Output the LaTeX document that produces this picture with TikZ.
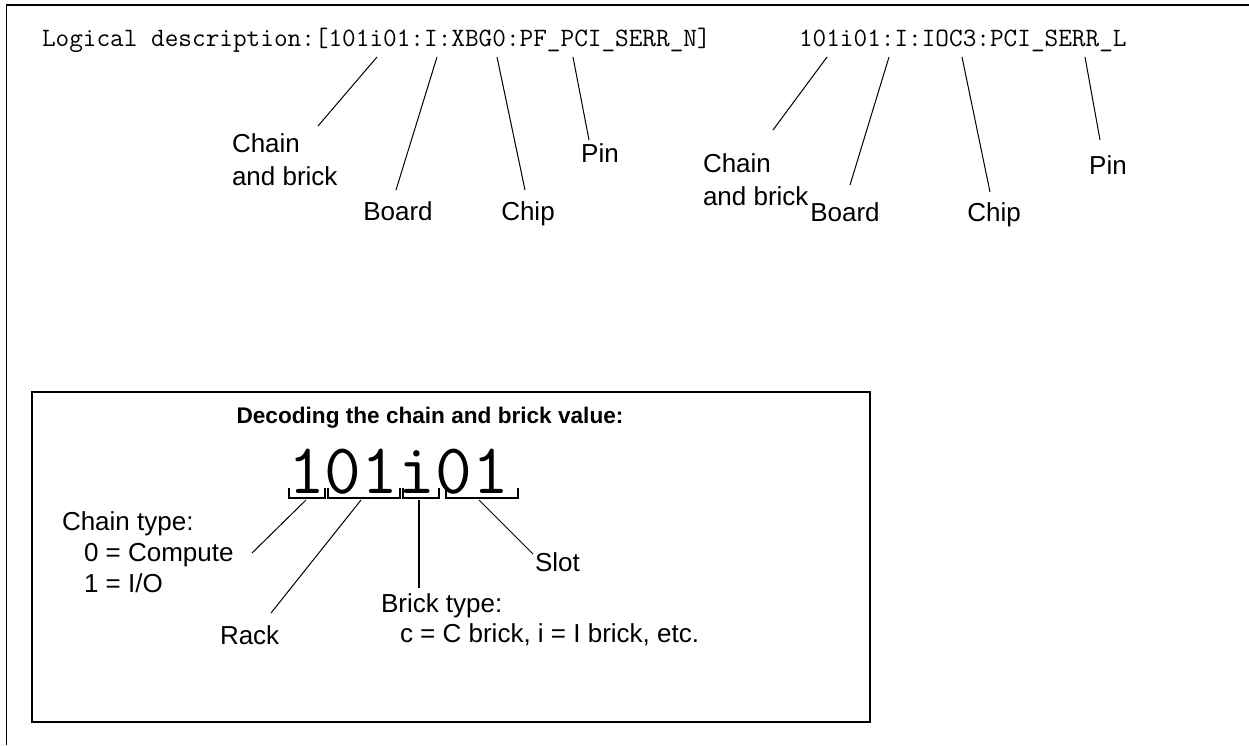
\documentclass[tikz,border=0pt]{standalone}
\usepackage{fontspec}
\setmainfont{Liberation Sans}
\begin{document}
\begin{tikzpicture}[x=1pt,y=-1pt,
  lbl/.style={inner sep=0pt,outer sep=0pt,font=\fontsize{26}{32.5}\selectfont,align=left},
  code/.style={inner sep=0pt,outer sep=0pt,anchor=base west,font=\ttfamily\fontsize{26.5}{30}\selectfont},
  lead/.style={line width=1pt},
  leadthick/.style={line width=2pt},
  brk/.style={line width=2pt},
  frame/.style={line width=2pt}]
\useasboundingbox (0,0) rectangle (1249,745);
% outer frame (top and left only)
\draw[line width=2pt] (6,5) -- (1249,5);
\draw[line width=1pt] (6.5,5) -- (6.5,745);
% top code strings
\node[code] (desc) at (42,46) {Logical description:[101i01:I:XBG0:PF\_PCI\_SERR\_N]};
\node[code] (name) at (799,46) {101i01:I:IOC3:PCI\_SERR\_L};
% left group labels (base = last line)
\node[lbl,anchor=base west] (cb1) at (232,185) {Chain\\and brick};
\node[lbl,anchor=base] (bd1) at (398,220) {Board};
\node[lbl,anchor=base] (ch1) at (528,220) {Chip};
\node[lbl,anchor=base] (pn1) at (600,162) {Pin};
% right group labels
\node[lbl,anchor=base west] (cb2) at (703,205) {Chain\\and brick};
\node[lbl,anchor=base] (bd2) at (845,221) {Board};
\node[lbl,anchor=base] (ch2) at (994,221) {Chip};
\node[lbl,anchor=base] (pn2) at (1108,174) {Pin};
% leader coordinates
\coordinate (a1) at (377,57);  \coordinate (a1e) at (318,126);
\coordinate (b1) at (437,57);  \coordinate (b1e) at (396,190);
\coordinate (c1) at (497,57);  \coordinate (c1e) at (525,190);
\coordinate (d1) at (573,57);  \coordinate (d1e) at (589,140);
\coordinate (a2) at (827,57);  \coordinate (a2e) at (773,130);
\coordinate (b2) at (889,57);  \coordinate (b2e) at (850,185);
\coordinate (c2) at (962,57);  \coordinate (c2e) at (990,192);
\coordinate (d2) at (1085,57); \coordinate (d2e) at (1100,140);
\foreach \s in {a1,b1,c1,d1,a2,b2,c2,d2}{\draw[lead] (\s) -- (\s e);}
% decoding box
\draw[frame] (32,392) rectangle (870,722);
\node[inner sep=0pt,anchor=base,font=\bfseries\fontsize{22.6}{26}\selectfont] (title) at (430,423) {Decoding the chain and brick value:};
\node[inner sep=0pt,anchor=base west,font=\ttfamily\fontsize{71.4}{80}\selectfont] (big) at (288,493) {101i01};
% brackets
\draw[brk] (289,488) -- (289,498) -- (325,498) -- (325,488);
\draw[brk] (328,488) -- (328,498) -- (400,498) -- (400,488);
\draw[brk] (403,488) -- (403,498) -- (439,498) -- (439,488);
\draw[brk] (446,488) -- (446,498) -- (518,498) -- (518,488);
\coordinate (k1) at (306,500); \coordinate (k1e) at (252,553);
\coordinate (k2) at (361,500); \coordinate (k2e) at (271,613);
\coordinate (k3) at (419,500); \coordinate (k3e) at (419,588);
\coordinate (k4) at (479,500); \coordinate (k4e) at (533,554);
\draw[lead] (k1) -- (k1e);
\draw[lead] (k2) -- (k2e);
\draw[leadthick] (k3) -- (k3e);
\draw[lead] (k4) -- (k4e);
% bottom labels (base = last line)
\node[lbl,anchor=base west,font=\fontsize{26}{31}\selectfont] (ctype) at (62,592) {Chain type:\\\hspace*{22pt}0 = Compute\\\hspace*{22pt}1 = I/O};
\node[lbl,anchor=base west] (slot) at (535,571) {Slot};
\node[lbl,anchor=base west,font=\fontsize{26}{30}\selectfont] (btype) at (381,642) {Brick type:\\\hspace*{19pt}c = C brick, i = I brick, etc.};
\node[lbl,anchor=base west] (rack) at (220,644) {Rack};
\end{tikzpicture}
\end{document}
